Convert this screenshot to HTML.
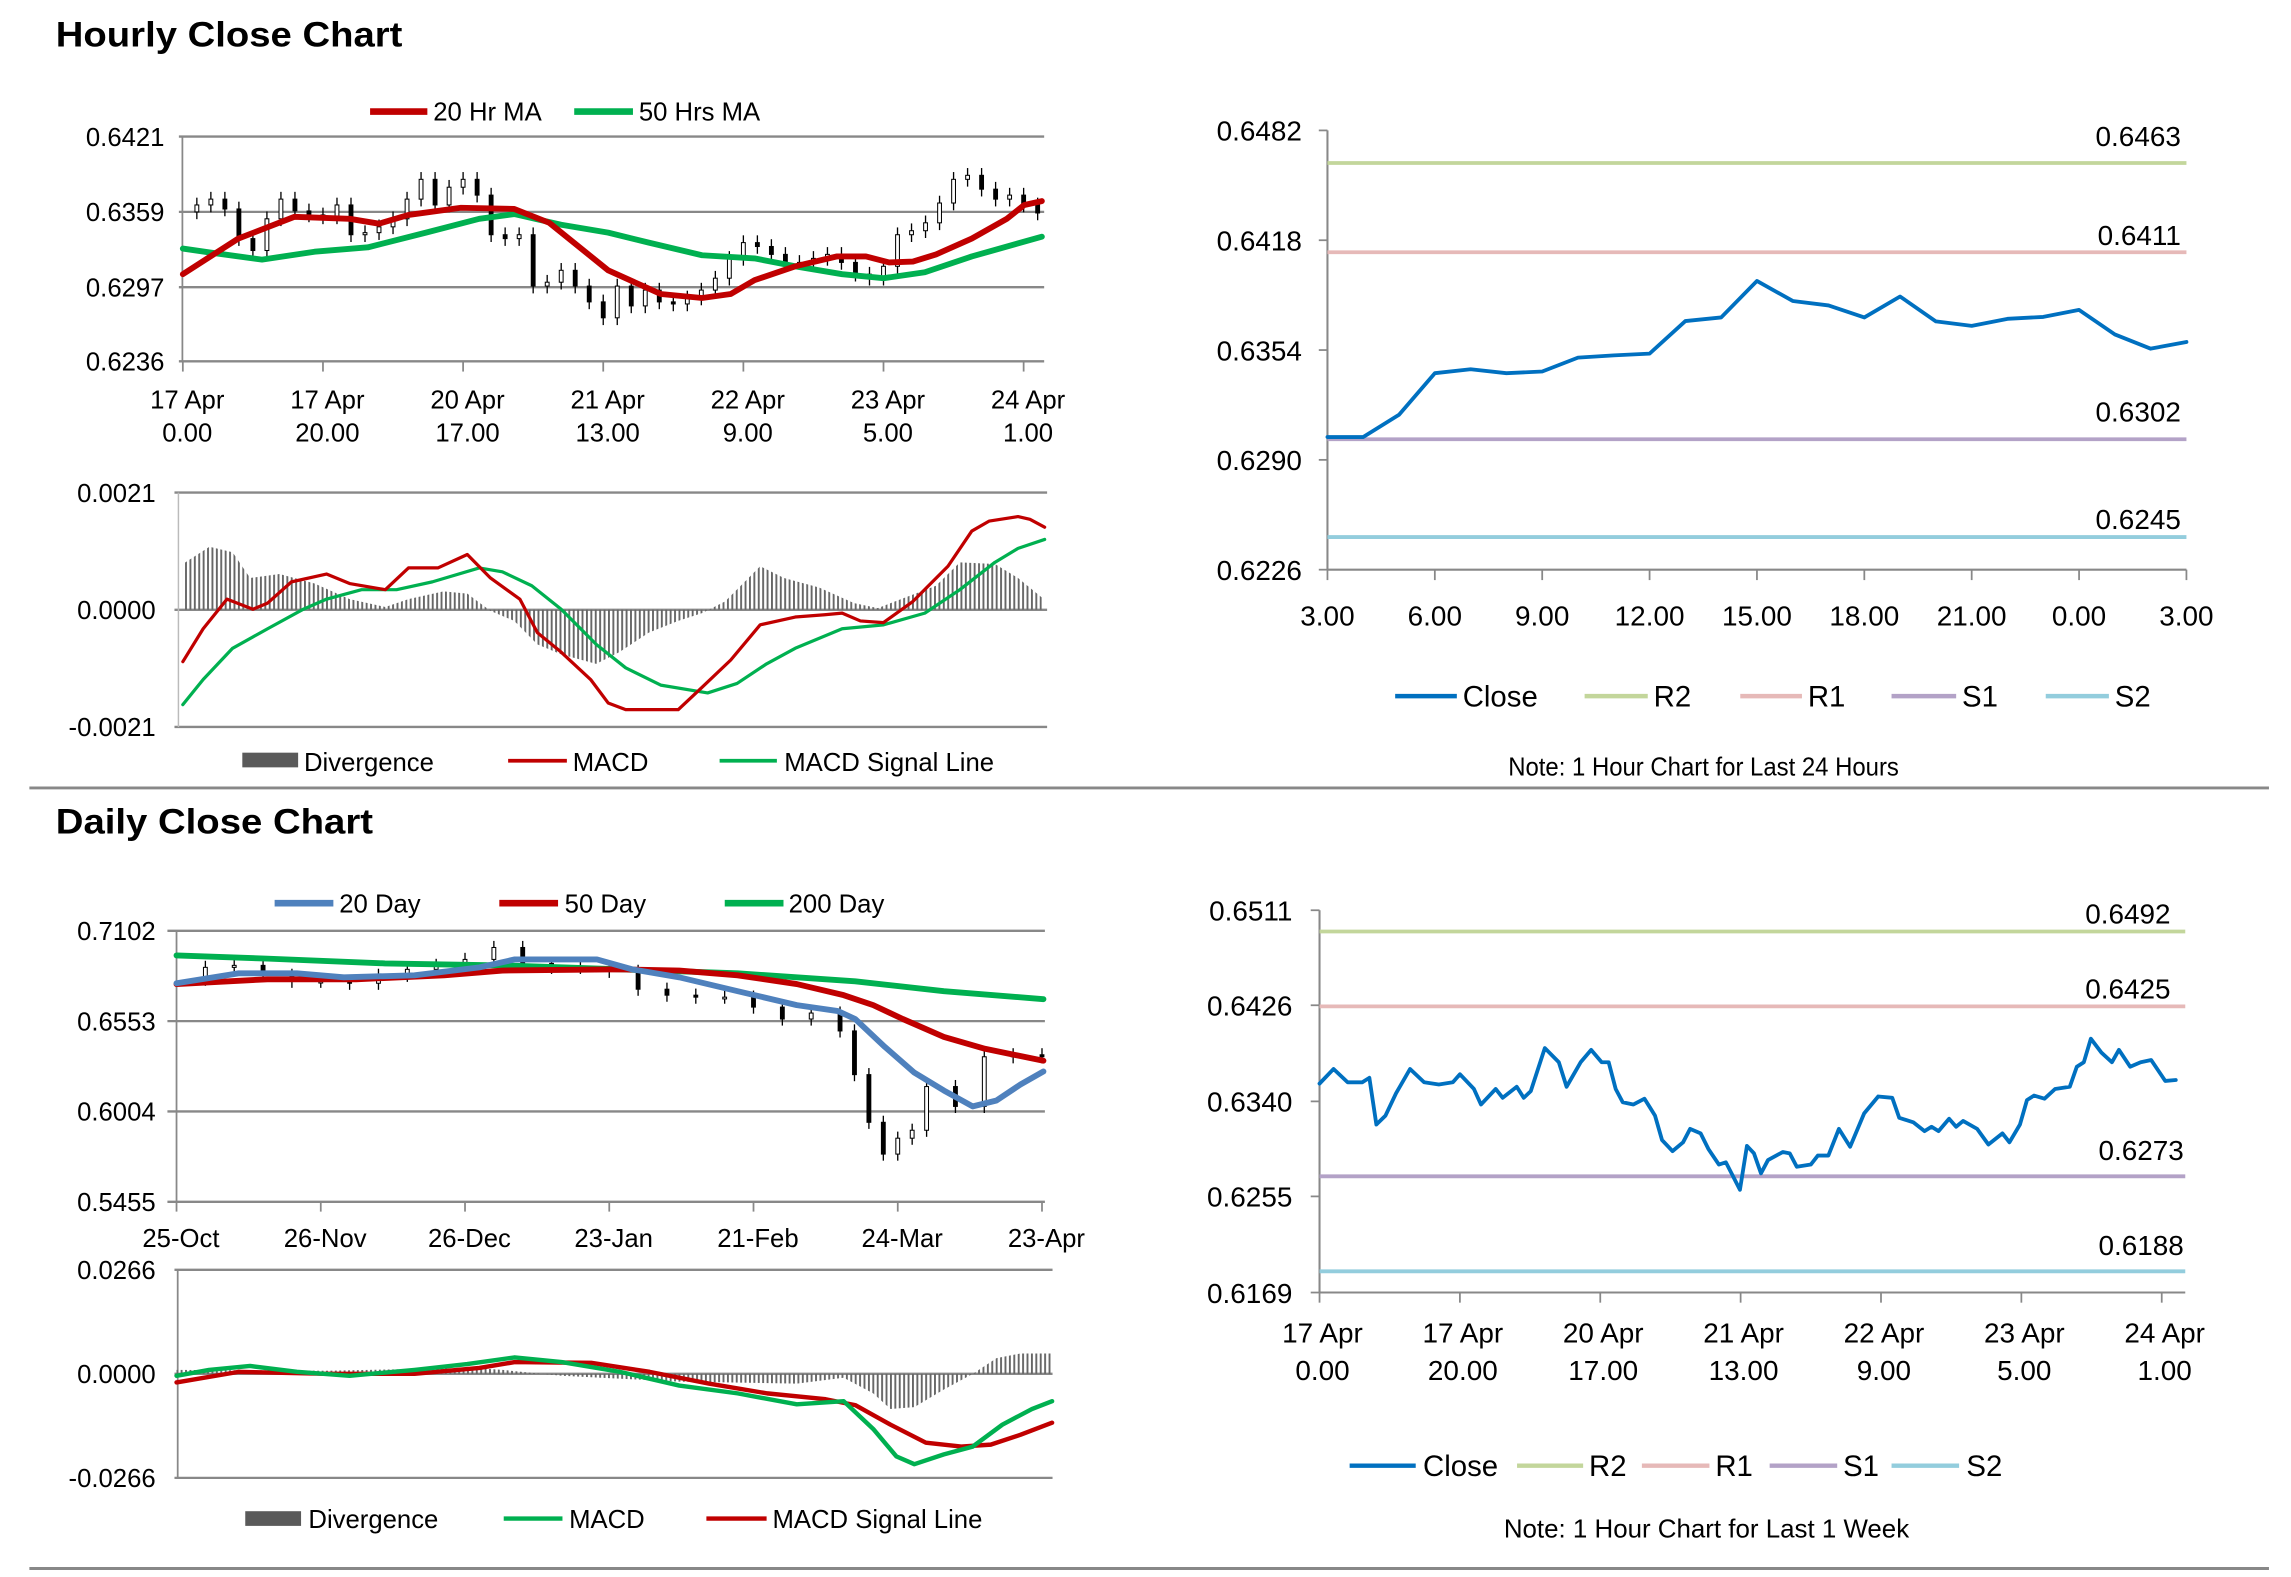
<!DOCTYPE html>
<html><head><meta charset="utf-8"><style>
html,body{margin:0;padding:0;background:#fff;}
svg{display:block;font-family:"Liberation Sans",Arial,sans-serif;}
</style></head><body>
<svg id="root" width="2291" height="1577" viewBox="0 0 1560 1073.8" preserveAspectRatio="none" xmlns="http://www.w3.org/2000/svg">
<defs>
<pattern id="hatch" patternUnits="userSpaceOnUse" width="3" height="10"><rect x="0" y="0" width="1.3" height="10" fill="#666"/></pattern>
</defs>
<rect x="0" y="0" width="1560" height="1073.8" fill="#fff"/>
<text x="38" y="31.8" font-size="24" font-weight="bold" textLength="236" lengthAdjust="spacingAndGlyphs">Hourly Close Chart</text>
<text x="38" y="567.4" font-size="24" font-weight="bold" textLength="216" lengthAdjust="spacingAndGlyphs">Daily Close Chart</text>
<line x1="20" y1="536.5" x2="1545" y2="536.5" stroke="#888" stroke-width="2"/>
<line x1="20" y1="1068" x2="1545" y2="1068" stroke="#888" stroke-width="2"/>

<!-- hourly legend -->
<g font-size="17.5">
<line x1="252" y1="76" x2="291" y2="76" stroke="#c00000" stroke-width="4.5"/>
<text x="295" y="82">20 Hr MA</text>
<line x1="391" y1="76" x2="431" y2="76" stroke="#00b050" stroke-width="4.5"/>
<text x="435" y="82">50 Hrs MA</text>
</g>
<g font-size="17.5">
<rect x="165" y="512.5" width="38" height="10" fill="#5a5a5a"/>
<text x="207" y="525">Divergence</text>
<line x1="346" y1="518" x2="386" y2="518" stroke="#c00000" stroke-width="2.5"/>
<text x="390" y="525">MACD</text>
<line x1="490" y1="518" x2="529" y2="518" stroke="#00b050" stroke-width="2.5"/>
<text x="534" y="525">MACD Signal Line</text>
</g>
<g font-size="17.5">
<line x1="187" y1="615" x2="227" y2="615" stroke="#4f81bd" stroke-width="4.5"/>
<text x="231" y="621.5">20 Day</text>
<line x1="340" y1="615" x2="380" y2="615" stroke="#c00000" stroke-width="4.5"/>
<text x="384.5" y="621.5">50 Day</text>
<line x1="493.5" y1="615" x2="533.5" y2="615" stroke="#00b050" stroke-width="4.5"/>
<text x="537" y="621.5">200 Day</text>
</g>
<g font-size="17.5">
<rect x="167" y="1029" width="38" height="10" fill="#5a5a5a"/>
<text x="210" y="1040.5">Divergence</text>
<line x1="343" y1="1034" x2="383" y2="1034" stroke="#00b050" stroke-width="3"/>
<text x="387.5" y="1040.5">MACD</text>
<line x1="481" y1="1034" x2="522" y2="1034" stroke="#c00000" stroke-width="3"/>
<text x="526" y="1040.5">MACD Signal Line</text>
</g>

<!-- right legends -->
<g font-size="20">
<line x1="950" y1="474" x2="992" y2="474" stroke="#0070c0" stroke-width="3"/>
<text x="996" y="481">Close</text>
<line x1="1079" y1="474" x2="1122" y2="474" stroke="#c3d69b" stroke-width="3"/>
<text x="1126" y="481">R2</text>
<line x1="1185" y1="474" x2="1227" y2="474" stroke="#e6b9b8" stroke-width="3"/>
<text x="1231" y="481">R1</text>
<line x1="1288" y1="474" x2="1332" y2="474" stroke="#b3a2c7" stroke-width="3"/>
<text x="1336" y="481">S1</text>
<line x1="1393" y1="474" x2="1436" y2="474" stroke="#93cddd" stroke-width="3"/>
<text x="1440" y="481">S2</text>
<text x="1160" y="528" font-size="17.5" text-anchor="middle" textLength="266" lengthAdjust="spacingAndGlyphs">Note: 1 Hour Chart for Last 24 Hours</text>
</g>
<g font-size="20">
<line x1="919" y1="998" x2="964" y2="998" stroke="#0070c0" stroke-width="3"/>
<text x="969" y="1005">Close</text>
<line x1="1033" y1="998" x2="1078" y2="998" stroke="#c3d69b" stroke-width="3"/>
<text x="1082" y="1005">R2</text>
<line x1="1118" y1="998" x2="1164" y2="998" stroke="#e6b9b8" stroke-width="3"/>
<text x="1168" y="1005">R1</text>
<line x1="1205" y1="998" x2="1251" y2="998" stroke="#b3a2c7" stroke-width="3"/>
<text x="1255" y="1005">S1</text>
<line x1="1288" y1="998" x2="1334" y2="998" stroke="#93cddd" stroke-width="3"/>
<text x="1339" y="1005">S2</text>
<text x="1162" y="1047" font-size="17.5" text-anchor="middle" textLength="276" lengthAdjust="spacingAndGlyphs">Note: 1 Hour Chart for Last 1 Week</text>
</g>
<g id="plots"></g>
</svg>
<script>
// ===== Hourly close chart data =====
const hCloseHours = [0,2,4,6,8,10,12,14,16,18,20,22,24,26,28,30,32,34,36,38,40,42,44,46,48,50,52,54,56,58,60,62,64,66,68,70,72,74,76,78,80,82,84,86,88,90,92,94,96,98,100,102,104,106,108,110,112,114,116,118,120,122];
const hClose = [0.6359,0.63647,0.63695,0.63614,0.6337,0.63272,0.63533,0.63695,0.63598,0.63565,0.63549,0.63647,0.63402,0.63419,0.63467,0.63533,0.63695,0.63858,0.63647,0.63793,0.63858,0.63728,0.63402,0.6337,0.63402,0.62979,0.63011,0.63109,0.62979,0.62849,0.62718,0.62979,0.62816,0.62946,0.62849,0.62832,0.62881,0.62946,0.63044,0.63207,0.63337,0.63305,0.6324,0.63174,0.63174,0.63207,0.6324,0.63174,0.63077,0.63044,0.63142,0.63402,0.63435,0.635,0.63663,0.63858,0.63891,0.63777,0.63695,0.63728,0.63647,0.63581];
const hMA20Hours = [0,7.9,15.9,23.8,28,32.2,39.7,47.3,52.3,60.7,68.2,74.1,78.2,81.6,87.4,93.3,97.5,100.8,104.2,107.5,112.6,117.6,120.1,122.6];
const hMA20 = [0.63077,0.6337,0.63549,0.63533,0.63493,0.63565,0.63624,0.63614,0.635,0.63109,0.62914,0.62881,0.62914,0.63028,0.63142,0.63223,0.63223,0.63174,0.63181,0.6324,0.6337,0.63533,0.63647,0.63679];
const hMA50Hours = [0,3.8,11.3,18.8,26.4,34.7,42.3,47.3,54,60.7,66.5,74.1,81.6,87.4,94.1,100,105.9,112.6,122.6];
const hMA50 = [0.63288,0.63256,0.63197,0.63262,0.63298,0.63419,0.63533,0.63572,0.63484,0.63419,0.63337,0.63233,0.63207,0.63142,0.63077,0.63044,0.63093,0.63223,0.63386];
const hPriceTicks = [0.6421,0.6359,0.6297,0.6236];
const hPriceTickLabels = ["0.6421","0.6359","0.6297","0.6236"];
const hXTicks = [0,20,40,60,80,100,120];
const hXLabels1 = ["17 Apr","17 Apr","20 Apr","21 Apr","22 Apr","23 Apr","24 Apr"];
const hXLabels2 = ["0.00","20.00","17.00","13.00","9.00","5.00","1.00"];
// hourly MACD
const hMacdHours = [0,2.9,6.3,10,12.1,15.5,20.5,23.8,28.9,32.2,36.4,40.6,43.9,48.1,50.6,54,58.2,60.7,63.2,70.7,74.1,78.2,82.4,87.4,91.6,94.1,96.7,100,104.2,109.2,112.6,115.1,119.2,120.9,123];
const hMacd = [-0.00093,-0.00034,0.00019,0.00001,0.00012,0.0005,0.00064,0.00047,0.00036,0.00075,0.00075,0.00099,0.00057,0.00019,-0.00041,-0.00076,-0.00125,-0.00167,-0.00179,-0.00179,-0.00139,-0.0009,-0.00027,-0.00013,-0.00009,-0.00006,-0.0002,-0.00023,0.00015,0.00078,0.00141,0.00159,0.00167,0.00162,0.00148];
const hSignalHours = [0,2.9,7.1,12.1,17.2,20.5,25.5,30.5,35.6,42.3,45.6,49.8,54,59,63.2,68.2,74.9,79.1,83.3,87.4,94.1,100,105.9,110.9,115.9,119.2,123];
const hSignal = [-0.0017,-0.00125,-0.00069,-0.00034,0.00001,0.00019,0.00036,0.00036,0.0005,0.00075,0.00068,0.00043,0.00001,-0.00062,-0.00104,-0.00135,-0.00149,-0.00132,-0.00097,-0.00069,-0.00034,-0.00027,-0.00006,0.00036,0.00085,0.0011,0.00126];
const hDivHours = [0,3.8,7.1,9.6,13.8,18.8,23.8,28.9,32.2,37.2,40.6,43.9,47.3,50.6,54,59,62.3,66.5,70.7,74.1,77.4,82.4,85.8,90.8,95.8,99.2,102.5,107.5,110.9,115.9,119.2,122.6];
const hDiv = [0.00082,0.00113,0.00103,0.00057,0.00064,0.00047,0.00019,0.00005,0.00019,0.00033,0.00029,-0.00002,-0.0002,-0.00062,-0.0008,-0.00097,-0.00076,-0.00041,-0.0002,-0.00006,0.00015,0.00078,0.00057,0.0004,0.00012,0.00003,0.00019,0.00043,0.00085,0.00082,0.00057,0.00022];
const hMacdTicks = [0.0021,0,-0.0021];
const hMacdTickLabels = ["0.0021","0.0000","-0.0021"];

// ===== Daily close chart data =====
const dIdx = [0,4,8,12,16,20,24,28,32,36,40,44,48,52,56,60,64,68,72,76,80,84,88,92,94,96,98,100,102,104,108,112,116,120];
const dClose = [0.68074,0.68798,0.68919,0.68315,0.67953,0.67953,0.67832,0.68315,0.68677,0.68919,0.69281,0.70006,0.6904,0.68798,0.68798,0.68557,0.6747,0.67108,0.66987,0.66987,0.66383,0.65659,0.66021,0.64934,0.62278,0.5938,0.57448,0.58414,0.58897,0.61553,0.60346,0.63364,0.63485,0.63364];
const d20Idx = [0,8.6,16.7,23.2,33,42,46.9,58.3,63.2,69.7,77.8,86,91.7,94.1,98.2,102.3,106.4,110.4,113.7,117,120.2];
const d20 = [0.67832,0.68436,0.68436,0.68194,0.68315,0.68798,0.69281,0.69281,0.68677,0.68194,0.67349,0.66504,0.66142,0.65659,0.63968,0.62398,0.61312,0.60346,0.60708,0.61674,0.62471];
const d50Idx = [0,12.6,24.9,37.1,45.2,61.5,69.7,77.8,86,92.5,96.6,100.7,106.4,112.1,120.2];
const d50 = [0.67784,0.68074,0.68074,0.68315,0.68605,0.68677,0.68605,0.68315,0.67784,0.67108,0.66504,0.65659,0.64572,0.63848,0.63123];
const d200Idx = [0,12.6,28.9,45.2,61.5,77.8,94.1,106.4,120.2];
const d200 = [0.69523,0.69329,0.6904,0.68919,0.68677,0.68436,0.67953,0.67349,0.66866];
const dPriceTicks = [0.7102,0.6553,0.6004,0.5455];
const dPriceTickLabels = ["0.7102","0.6553","0.6004","0.5455"];
const dXTicks = [0,20,40,60,80,100,120];
const dXLabels = ["25-Oct","26-Nov","26-Dec","23-Jan","21-Feb","24-Mar","23-Apr"];
const dMacdIdx = [0,4.5,10.2,16.7,24,33,40.3,46.9,53.4,61.5,69.7,77.8,86,92.5,96.6,99.8,102.3,106.4,110.4,114.5,118.6,121.4];
const dMacd = [-0.0005,0.001,0.002,0.0005,-0.0005,0.001,0.0025,0.0042,0.003,0.0005,-0.003,-0.005,-0.0078,-0.007,-0.0141,-0.0211,-0.0231,-0.0206,-0.0186,-0.013,-0.009,-0.007];
const dSignalIdx = [0,8.6,20.8,33,42,46.9,57.5,65.6,73.8,81.9,90,94.1,99,103.9,108.8,112.9,117,121.4];
const dSignal = [-0.0022,0.0005,0,0,0.0015,0.003,0.0028,0.0005,-0.0025,-0.005,-0.0065,-0.008,-0.013,-0.0176,-0.0186,-0.0181,-0.0156,-0.0125];
const dDivIdx = [0,20.8,41.2,45.2,53.4,69.7,86,92.5,96.6,99,102.3,106.4,110.4,113.7,117,121.4];
const dDiv = [0.001,0.0008,0.0015,0.001,-0.0005,-0.002,-0.0025,-0.001,-0.005,-0.009,-0.0085,-0.004,0,0.004,0.0052,0.0052];
const dMacdTicks = [0.0266,0,-0.0266];
const dMacdTickLabels = ["0.0266","0.0000","-0.0266"];

// ===== Right charts data =====
const rtHours = [0,1,2,3,4,5,6,7,8,9,10,11,12,13,14,15,16,17,18,19,20,21,22,23,24];
const rtClose = [0.63033,0.63033,0.63163,0.63405,0.63428,0.63405,0.63415,0.63496,0.63509,0.63519,0.63709,0.6373,0.63943,0.63826,0.638,0.6373,0.63852,0.63707,0.63681,0.63722,0.63733,0.63774,0.63631,0.63548,0.63587];
const rtLevels = [0.6463,0.6411,0.6302,0.6245];
const rtLevelLabels = ["0.6463","0.6411","0.6302","0.6245"];
const rtYTicks = [0.6482,0.6418,0.6354,0.629,0.6226];
const rtYLabels = ["0.6482","0.6418","0.6354","0.6290","0.6226"];
const rtXTicks = [0,3,6,9,12,15,18,21,24];
const rtXLabels = ["3.00","6.00","9.00","12.00","15.00","18.00","21.00","0.00","3.00"];

const rbHours = [0,2,4,6.1,7.1,8.1,9.4,10.9,12.9,14.9,17,19,20,22,23,25.1,26.1,28.1,29.1,30.1,32.1,34.1,35.2,37.2,38.7,40.2,41.2,42.2,43.2,44.7,46.3,47.8,48.8,50.3,51.8,52.8,54.3,55.4,56.9,57.9,59.9,60.9,61.9,62.9,63.9,66,67,68,70,71,72.5,74,75.6,77.6,79.6,81.6,82.6,84.6,86.2,87.2,88.2,89.7,90.7,91.7,93.7,95.3,97.3,98.3,99.8,100.8,101.8,103.3,104.8,106.9,107.9,108.9,109.9,111.4,112.9,113.9,115.5,117,118.5,120.5,122];
const rbClose = [0.63559,0.6369,0.63571,0.63571,0.63611,0.63193,0.63273,0.63472,0.6369,0.63571,0.63551,0.63571,0.63643,0.63511,0.63372,0.63511,0.63432,0.63531,0.63432,0.63492,0.63877,0.6375,0.63531,0.6375,0.63861,0.6375,0.6375,0.63511,0.63392,0.63372,0.63424,0.63273,0.63054,0.62955,0.63034,0.63154,0.63114,0.62975,0.62835,0.62855,0.62609,0.63002,0.62935,0.62756,0.62875,0.62947,0.62935,0.62815,0.62835,0.62915,0.62915,0.63154,0.62994,0.63293,0.63444,0.63432,0.63253,0.63213,0.63134,0.63173,0.63134,0.63245,0.63173,0.63225,0.63154,0.63014,0.63114,0.63034,0.63193,0.63412,0.63452,0.63424,0.63511,0.63531,0.6371,0.6375,0.63961,0.63837,0.6375,0.63861,0.6371,0.6375,0.6377,0.63583,0.63591];
const rbLevels = [0.6492,0.6425,0.6273,0.6188];
const rbLevelLabels = ["0.6492","0.6425","0.6273","0.6188"];
const rbYTicks = [0.6511,0.6426,0.634,0.6255,0.6169];
const rbYLabels = ["0.6511","0.6426","0.6340","0.6255","0.6169"];
const rbXTicks = [0,20,40,60,80,100,120];
const rbXLabels1 = ["17 Apr","17 Apr","20 Apr","21 Apr","22 Apr","23 Apr","24 Apr"];
const rbXLabels2 = ["0.00","20.00","17.00","13.00","9.00","5.00","1.00"];

const NS = "http://www.w3.org/2000/svg";
const plots = document.getElementById('plots');
function mk(tag, attrs, parent) {
  const el = document.createElementNS(NS, tag);
  for (const k in attrs) el.setAttribute(k, attrs[k]);
  (parent || plots).appendChild(el);
  return el;
}
function group(name) {
  const g = mk('g', {});
  
  
  return g;
}
function linePath(xs, ys, sx, sy, stroke, w, name, parent) {
  let d = '';
  for (let i = 0; i < xs.length; i++) d += (i ? 'L' : 'M') + sx(xs[i]).toFixed(2) + ',' + sy(ys[i]).toFixed(2);
  const p = mk('path', {d: d, fill: 'none', stroke: stroke, 'stroke-width': w, 'stroke-linejoin': 'round', 'stroke-linecap': 'round'}, parent);
  
  
  return p;
}
function txt(x, y, s, size, anchor, name, parent) {
  const t = mk('text', {x: x, y: y, 'font-size': size, 'text-anchor': anchor}, parent);
  t.textContent = s;
  
  
  return t;
}
function hline(x1, x2, y, stroke, w, name, parent) {
  const l = mk('line', {x1: x1, x2: x2, y1: y, y2: y, stroke: stroke, 'stroke-width': w}, parent);
  
  
  return l;
}
function vline(x, y1, y2, stroke, w, name, parent) {
  const l = mk('line', {x1: x, x2: x, y1: y1, y2: y2, stroke: stroke, 'stroke-width': w}, parent);
  
  
  return l;
}
function divArea(xs, vs, sx, sy, name, parent) {
  let d = 'M' + sx(xs[0]) + ',' + sy(0);
  for (let i = 0; i < xs.length; i++) d += 'L' + sx(xs[i]).toFixed(2) + ',' + sy(vs[i]).toFixed(2);
  d += 'L' + sx(xs[xs.length - 1]) + ',' + sy(0) + 'Z';
  const p = mk('path', {d: d, fill: 'url(#hatch)', stroke: 'none'}, parent);
  
  
}
function candles(xs, cs, sx, sy, wick, bw, name, parent) {
  for (let i = 1; i < cs.length; i++) {
    const o = cs[i - 1], c = cs[i];
    const x = sx(xs[i]);
    const hi = Math.max(o, c) + wick, lo = Math.min(o, c) - wick;
    const w = mk('line', {x1: x, x2: x, y1: sy(hi), y2: sy(lo), stroke: '#000', 'stroke-width': 0.9}, parent);
    
    
    const top = sy(Math.max(o, c)), h = Math.max(1.2, Math.abs(sy(o) - sy(c)));
    const b = mk('rect', {x: x - bw / 2, y: top, width: bw, height: h, fill: c >= o ? '#fff' : '#000', stroke: '#000', 'stroke-width': 0.7}, parent);
    
    
  }
}

// ---------- Hourly price chart ----------
(function () {
  const g = group('hourly-price-chart');
  const sx = h => 124.5 + h * 4.771;
  const sy = p => 93 + (0.6421 - p) / 0.0185 * 153;
  hPriceTicks.forEach((v, i) => {
    hline(121.8, 711, sy(v), '#888', 1.6, 'price-gridline', g);
    txt(112, sy(v) + 6.3, hPriceTickLabels[i], 17.5, 'end', 'y-tick-label', g);
  });
  vline(124.2, 93, 246, '#888', 1.2, 'y-axis', g);
  hXTicks.forEach((t, i) => {
    vline(sx(t), 246, 253, '#888', 1.2, 'x-tick', g);
    txt(sx(t) + 3, 278, hXLabels1[i], 17.5, 'middle', 'x-tick-label-date', g);
    txt(sx(t) + 3, 300.7, hXLabels2[i], 17.5, 'middle', 'x-tick-label-hour', g);
  });
  candles(hCloseHours, hClose, sx, sy, 0.0006, 2.6, 'candle', g);
  linePath(hMA50Hours, hMA50, sx, sy, '#00b050', 4, 'ma-50hrs-line', g);
  linePath(hMA20Hours, hMA20, sx, sy, '#c00000', 4, 'ma-20hr-line', g);
})();

// ---------- Hourly MACD ----------
(function () {
  const g = group('hourly-macd-chart');
  const sx = h => 124.5 + h * 4.771;
  const sy = v => 415.2 - v * (159.6 / 0.0042);
  hMacdTicks.forEach((v, i) => {
    hline(118.8, 713, sy(v), '#888', 1.6, 'macd-gridline', g);
    txt(106, sy(v) + 6.3, hMacdTickLabels[i], 17.5, 'end', 'y-tick-label', g);
  });
  vline(121.5, sy(0.0021), sy(-0.0021), '#bbb', 1, 'y-axis', g);
  divArea(hDivHours, hDiv, sx, sy, 'divergence-histogram', g);
  linePath(hSignalHours, hSignal, sx, sy, '#00b050', 2.2, 'macd-signal-line', g);
  linePath(hMacdHours, hMacd, sx, sy, '#c00000', 2.2, 'macd-line', g);
})();

// ---------- Daily price chart ----------
(function () {
  const g = group('daily-price-chart');
  const sx = i => 120.2 + i * 4.911;
  const sy = p => 633.8 + (0.7102 - p) / 0.1647 * 184.5;
  dPriceTicks.forEach((v, i) => {
    hline(114, 711.5, sy(v), '#888', 1.6, 'price-gridline', g);
    txt(106, sy(v) + 6.3, dPriceTickLabels[i], 17.5, 'end', 'y-tick-label', g);
  });
  vline(120.2, 633.8, 818.3, '#888', 1.2, 'y-axis', g);
  dXTicks.forEach((t, i) => {
    vline(sx(t), 818.3, 825, '#888', 1.2, 'x-tick', g);
    txt(sx(t) + 3, 849, dXLabels[i], 17.5, 'middle', 'x-tick-label', g);
  });
  candles(dIdx, dClose, sx, sy, 0.004, 2.6, 'candle', g);
  linePath(d200Idx, d200, sx, sy, '#00b050', 4, 'ma-200day-line', g);
  linePath(d50Idx, d50, sx, sy, '#c00000', 4, 'ma-50day-line', g);
  linePath(d20Idx, d20, sx, sy, '#4f81bd', 4, 'ma-20day-line', g);
})();

// ---------- Daily MACD ----------
(function () {
  const g = group('daily-macd-chart');
  const sx = i => 120.2 + i * 4.911;
  const sy = v => 935.45 - v * (141.7 / 0.0532);
  dMacdTicks.forEach((v, i) => {
    hline(118.8, 716.7, sy(v), '#888', 1.6, 'macd-gridline', g);
    txt(106, sy(v) + 6.3, dMacdTickLabels[i], 17.5, 'end', 'y-tick-label', g);
  });
  vline(121, sy(0.0266), sy(-0.0266), '#888', 1.2, 'y-axis', g);
  divArea(dDivIdx, dDiv, sx, sy, 'divergence-histogram', g);
  linePath(dSignalIdx, dSignal, sx, sy, '#c00000', 3, 'macd-signal-line', g);
  linePath(dMacdIdx, dMacd, sx, sy, '#00b050', 3, 'macd-line', g);
})();

// ---------- Right top (24 hours) ----------
(function () {
  const g = group('close-24h-chart');
  const sx = h => 903.9 + h * (584.9 / 24);
  const sy = p => 88.8 + (0.6482 - p) / 0.0256 * 299.1;
  const colors = ['#c3d69b', '#e6b9b8', '#b3a2c7', '#93cddd'];
  const names = ['r2', 'r1', 's1', 's2'];
  const offs = [11.5, 5, 12, 5.5];
  vline(903.9, 88.8, 387.9, '#888', 1.4, 'y-axis', g);
  hline(903.9, 1488.8, 387.9, '#888', 1.4, 'x-axis', g);
  rtYTicks.forEach((v, i) => {
    hline(898, 903.9, sy(v), '#888', 1.2, 'y-tick', g);
    txt(886.5, sy(v) + 7, rtYLabels[i], 19, 'end', 'y-tick-label', g);
  });
  rtXTicks.forEach((t, i) => {
    vline(sx(t), 387.9, 395, '#888', 1.2, 'x-tick', g);
    txt(sx(t), 426, rtXLabels[i], 19, 'middle', 'x-tick-label', g);
  });
  rtLevels.forEach((v, i) => {
    hline(903.9, 1488.8, sy(v), colors[i], 2.6, names[i] + '-level-line', g);
    txt(1485, sy(v) - offs[i], rtLevelLabels[i], 19, 'end', names[i] + '-level-label', g);
  });
  linePath(rtHours, rtClose, sx, sy, '#0070c0', 2.6, 'close-line', g);
})();

// ---------- Right bottom (1 week) ----------
(function () {
  const g = group('close-1week-chart');
  const sx = h => 898.5 + h * 4.779;
  const sy = p => 619.8 + (0.6511 - p) / 0.0342 * 260.3;
  const colors = ['#c3d69b', '#e6b9b8', '#b3a2c7', '#93cddd'];
  const names = ['r2', 'r1', 's1', 's2'];
  const offs = [5.5, 5.5, 11, 11];
  vline(898.5, 619.8, 880.1, '#888', 1.4, 'y-axis', g);
  hline(898.5, 1488, 880.1, '#888', 1.4, 'x-axis', g);
  rbYTicks.forEach((v, i) => {
    hline(892.5, 898.5, sy(v), '#888', 1.2, 'y-tick', g);
    txt(880, sy(v) + 7, rbYLabels[i], 19, 'end', 'y-tick-label', g);
  });
  rbXTicks.forEach((t, i) => {
    vline(sx(t), 880.1, 887, '#888', 1.2, 'x-tick', g);
    txt(sx(t) + 2, 914, rbXLabels1[i], 19, 'middle', 'x-tick-label-date', g);
    txt(sx(t) + 2, 939.7, rbXLabels2[i], 19, 'middle', 'x-tick-label-hour', g);
  });
  rbLevels.forEach((v, i) => {
    hline(898.5, 1488, sy(v), colors[i], 2.6, names[i] + '-level-line', g);
    txt(i < 2 ? 1478 : 1487, sy(v) - offs[i], rbLevelLabels[i], 19, 'end', names[i] + '-level-label', g);
  });
  linePath(rbHours, rbClose, sx, sy, '#0070c0', 2.6, 'close-line', g);
})();
</script>
</body></html>
